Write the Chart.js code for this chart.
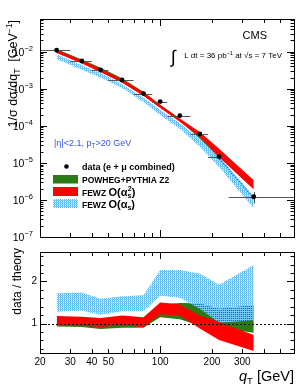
<!DOCTYPE html>
<html>
<head>
<meta charset="UTF-8">
<title>Z qT</title>
<script src="https://cdn.jsdelivr.net/npm/chart.js"></script>
<style>
  body { margin: 0; background: #fff; }
  #wrap { position: relative; width: 300px; height: 391px; }
  canvas { position: absolute; left: 0; }
  #top { top: 0; }
  #bot { top: 243px; }
</style>
</head>
<body>
<div id="wrap">
  <canvas id="top" width="300" height="243"></canvas>
  <canvas id="bot" width="300" height="148"></canvas>
</div>
<script>
// bins in qT [GeV]
const qT    = [25, 35, 45, 60, 80, 100, 130, 170, 220, 350];
const binLo = [20, 30, 40, 50, 70, 90, 110, 150, 190, 250];
const binHi = [30, 40, 50, 70, 90, 110, 150, 190, 250, 600];

// measured 1/sigma dsigma/dqT and its error
const dataVal = [1.09e-2, 5.6e-3, 3.2e-3, 1.72e-3, 7.4e-4, 4.5e-4, 1.88e-4, 6.0e-5, 1.47e-5, 1.22e-6];
const dataErr = [3e-4, 1.7e-4, 1.1e-4, 6e-5, 3.5e-5, 2.5e-5, 1.4e-5, 7e-6, 2.8e-6, 4.2e-7];

// theory bands, top panel
const powhegLo = [1.06e-2, 5.5e-3, 3.3e-3, 1.73e-3, 7.4e-4, 3.3e-4, 1.39e-4, 4.6e-5, 1.28e-5, 1.04e-6];
const powhegHi = [1.14e-2, 6.0e-3, 3.6e-3, 1.87e-3, 8.0e-4, 3.6e-4, 1.51e-4, 5.0e-5, 1.4e-5, 1.16e-6];
const fewz2Lo  = [9.2e-3, 4.8e-3, 2.8e-3, 1.45e-3, 6.4e-4, 3.0e-4, 1.29e-4, 5.0e-5, 1.41e-5, 1.9e-6];
const fewz2Hi  = [1.13e-2, 5.9e-3, 3.5e-3, 1.8e-3, 8.0e-4, 3.7e-4, 1.58e-4, 6.8e-5, 2.4e-5, 3.4e-6];
const fewz1Lo  = [6.3e-3, 3.24e-3, 2.0e-3, 1.04e-3, 4.4e-4, 1.97e-4, 8.3e-5, 2.74e-5, 7.7e-6, 6.0e-7];
const fewz1Hi  = [8.5e-3, 4.28e-3, 2.65e-3, 1.33e-3, 5.7e-4, 2.7e-4, 1.17e-4, 4.4e-5, 1.47e-5, 1.25e-6];

// data / theory, bottom panel
const rPowhegLo = [0.93, 0.92, 0.87, 0.90, 0.90, 1.15, 1.10, 0.95, 0.90, 0.78];
const rPowhegHi = [1.02, 1.01, 0.97, 1.00, 1.00, 1.45, 1.49, 1.48, 1.36, 1.44];
const rFewz2Lo  = [0.96, 0.945, 0.915, 0.96, 0.915, 1.22, 1.19, 0.88, 0.61, 0.35];
const rFewz2Hi  = [1.18, 1.16, 1.13, 1.19, 1.15, 1.50, 1.46, 1.19, 1.04, 0.73];
const rFewz1Lo  = [1.28, 1.31, 1.21, 1.29, 1.29, 1.66, 1.61, 1.35, 1.02, 1.08];
const rFewz1Hi  = [1.72, 1.74, 1.59, 1.65, 1.67, 2.27, 2.27, 2.19, 1.92, 2.39];

// tick labels
const xTickLabels = [20, 30, 40, 50, 100, 200, 300];
const yTickExp = [-7, -6, -5, -4, -3, -2];
const rTickLabels = [1, 2];

const FONT = '"Liberation Sans", Arial, Helvetica, sans-serif';
const RED = '#ff0000';
const GREEN = '#2a7b14';

function font(s, b, i) {
    return (i ? 'italic ' : '') + (b ? 'bold ' : '') + s + 'px ' + FONT;
}

// draws a row of text pieces (for sub/superscripts)
function rich(ctx, x, y, segs, align, color) {
    let w = 0;
    segs.forEach(s => {
        ctx.font = font(s.s, s.b, s.i);
        s.w = ctx.measureText(s.t).width + (s.gap || 0);
        w += s.w;
    });
    let cx = align === 'right' ? x - w : (align === 'center' ? x - w / 2 : x);
    ctx.textAlign = 'left';
    ctx.textBaseline = 'alphabetic';
    ctx.fillStyle = color || '#000';
    segs.forEach(s => {
        ctx.font = font(s.s, s.b, s.i);
        ctx.fillText(s.t, cx, y + (s.dy || 0));
        cx += s.w;
    });
}

// light blue hatch, partly see-through so the green shows under it
function hatch(canvasId) {
    const c = document.createElement('canvas');
    c.width = 4; c.height = 4;
    const g = c.getContext('2d');
    g.fillStyle = '#5cbbef';
    g.fillRect(0, 0, 4, 4);
    g.fillStyle = '#7ecaf3';
    g.fillRect(0, 0, 4, 1);
    g.fillRect(0, 2, 4, 1);
    g.clearRect(1, 1, 1, 1); g.clearRect(3, 1, 1, 1);
    g.clearRect(1, 3, 1, 1); g.clearRect(3, 3, 1, 1);
    return document.getElementById(canvasId).getContext('2d').createPattern(c, 'repeat');
}
const BLUE_TOP = hatch('top');
const BLUE_BOT = hatch('bot');

const pts = (ys) => qT.map((x, i) => ({ x: x, y: ys[i] }));

function band(lo, hi, color, order, line) {
    const lc = line ? color : 'rgba(0,0,0,0)';
    return [
        { label: 'lo', data: pts(lo), borderColor: lc, borderWidth: line ? 0.8 : 1, pointRadius: 0, fill: false, order: order, tension: 0 },
        { label: 'hi', data: pts(hi), borderColor: lc, borderWidth: line ? 0.8 : 1, pointRadius: 0, backgroundColor: color, fill: '-1', order: order, tension: 0 }
    ];
}

function drawXTicks(ctx, a, xs) {
    ctx.strokeStyle = '#000';
    ctx.lineWidth = 1;
    const vals = [20, 30, 40, 50, 60, 70, 80, 90, 100, 200, 300, 400, 500];
    vals.forEach(v => {
        const x = Math.round(xs.getPixelForValue(v)) + 0.5;
        const len = v === 100 ? 7 : 4;
        ctx.beginPath();
        ctx.moveTo(x, a.bottom); ctx.lineTo(x, a.bottom - len);
        ctx.moveTo(x, a.top); ctx.lineTo(x, a.top + len);
        ctx.stroke();
    });
}

function frame(ctx, a) {
    ctx.strokeStyle = '#000';
    ctx.lineWidth = 1;
    ctx.strokeRect(Math.round(a.left) + 0.5, Math.round(a.top) + 0.5, Math.round(a.right - a.left), Math.round(a.bottom - a.top));
}

const errorBars = {
    id: 'errorBars',
    beforeDatasetDraw(chart, args) {
        if (chart.data.datasets[args.index].label !== 'data') return;
        const ctx = chart.ctx, xs = chart.scales.x, ys = chart.scales.y;
        ctx.save();
        ctx.strokeStyle = '#555';
        ctx.lineWidth = 1;
        dataVal.forEach((v, i) => {
            const x = xs.getPixelForValue(qT[i]);
            const y = Math.round(ys.getPixelForValue(v)) + 0.5;
            ctx.beginPath();
            ctx.moveTo(xs.getPixelForValue(binLo[i]), y);
            ctx.lineTo(xs.getPixelForValue(binHi[i]), y);
            const xr = Math.round(x) + 0.5;
            ctx.moveTo(xr, ys.getPixelForValue(v + dataErr[i]));
            ctx.lineTo(xr, ys.getPixelForValue(v - dataErr[i]));
            ctx.stroke();
        });
        ctx.restore();
    }
};

const topDecor = {
    id: 'topDecor',
    afterDraw(chart) {
        const ctx = chart.ctx, a = chart.chartArea, xs = chart.scales.x, ys = chart.scales.y;
        ctx.save();
        frame(ctx, a);
        drawXTicks(ctx, a, xs);
        // log y ticks
        for (let e = -7; e <= -2; e++) {
            for (let m = 1; m <= 9; m++) {
                const v = m * Math.pow(10, e);
                if (v > ys.max) continue;
                const y = Math.round(ys.getPixelForValue(v)) + 0.5;
                const len = m === 1 ? 7 : 3.5;
                ctx.beginPath();
                ctx.moveTo(a.left, y); ctx.lineTo(a.left + len, y);
                ctx.moveTo(a.right, y); ctx.lineTo(a.right - len, y);
                ctx.stroke();
            }
        }
        yTickExp.forEach(e => {
            const y = ys.getPixelForValue(Math.pow(10, e));
            rich(ctx, 33, y + 4, [{ t: '10', s: 10.5 }, { t: String(e).replace('-', '\u2212'), s: 7.5, dy: -5 }], 'right');
        });
        // axis title
        ctx.save();
        ctx.translate(17, 20);
        ctx.rotate(-Math.PI / 2);
        rich(ctx, 0, 0, [
            { t: '1/\u03c3 d\u03c3/dq', s: 12.5 }, { t: 'T', s: 8.5, dy: 3 },
            { t: '  [GeV', s: 12.5 }, { t: '\u22121', s: 8.5, dy: -5 }, { t: ']', s: 12.5 }
        ], 'right');
        ctx.restore();
        // labels
        rich(ctx, 267, 39, [{ t: 'CMS', s: 11 }], 'right');
        rich(ctx, 171, 63, [{ t: '\u222b', s: 18 }], 'left');
        rich(ctx, 282, 58, [
            { t: 'L dt = 36 pb', s: 8 }, { t: '\u22121', s: 5.5, dy: -3.5 },
            { t: ' at \u221as = 7 TeV', s: 8 }
        ], 'right');
        rich(ctx, 54, 146, [
            { t: '|\u03b7|<2.1, p', s: 9 }, { t: 'T', s: 6.5, dy: 2 }, { t: '>20 GeV', s: 9 }
        ], 'left', '#3355ee');
        // legend
        ctx.fillStyle = '#000';
        ctx.beginPath();
        ctx.arc(66.5, 166.5, 2.3, 0, Math.PI * 2);
        ctx.fill();
        rich(ctx, 82, 170, [{ t: 'data (e + \u03bc combined)', s: 9, b: true }], 'left');
        ctx.fillStyle = GREEN;
        ctx.fillRect(53, 175, 25, 8.5);
        rich(ctx, 82, 183, [{ t: 'POWHEG+PYTHIA Z2', s: 8.5, b: true }], 'left');
        ctx.fillStyle = RED;
        ctx.fillRect(53, 187, 25, 9);
        rich(ctx, 82, 195.5, [
            { t: 'FEWZ ', s: 8.5, b: true }, { t: 'O(\u03b1', s: 11, b: true },
            { t: 's', s: 7, b: true, dy: 2, gap: -3.5 }, { t: '2', s: 7, b: true, dy: -5 }, { t: ')', s: 11, b: true }
        ], 'left');
        ctx.fillStyle = BLUE_TOP;
        ctx.fillRect(53, 199, 25, 9);
        rich(ctx, 82, 208, [
            { t: 'FEWZ ', s: 8.5, b: true }, { t: 'O(\u03b1', s: 11, b: true },
            { t: 's', s: 7, b: true, dy: 2 }, { t: ')', s: 11, b: true }
        ], 'left');
        ctx.restore();
    }
};

const botDecor = {
    id: 'botDecor',
    afterDatasetsDraw(chart) {
        const ctx = chart.ctx, a = chart.chartArea, ys = chart.scales.y;
        const y = Math.round(ys.getPixelForValue(1)) + 0.5;
        ctx.save();
        ctx.strokeStyle = '#000';
        ctx.lineWidth = 1;
        ctx.setLineDash([2, 2]);
        ctx.beginPath();
        ctx.moveTo(a.left, y); ctx.lineTo(a.right, y);
        ctx.stroke();
        ctx.restore();
    },
    afterDraw(chart) {
        const ctx = chart.ctx, a = chart.chartArea, xs = chart.scales.x, ys = chart.scales.y;
        ctx.save();
        frame(ctx, a);
        drawXTicks(ctx, a, xs);
        for (let v = 0.4; v < 2.7; v += 0.2) {
            const major = Math.abs(v - Math.round(v)) < 0.01;
            const y = Math.round(ys.getPixelForValue(v)) + 0.5;
            const len = major ? 7 : 3.5;
            ctx.beginPath();
            ctx.moveTo(a.left, y); ctx.lineTo(a.left + len, y);
            ctx.moveTo(a.right, y); ctx.lineTo(a.right - len, y);
            ctx.stroke();
        }
        ctx.save();
        ctx.translate(21, 5);
        ctx.rotate(-Math.PI / 2);
        rich(ctx, 0, 0, [{ t: 'data / theory', s: 12 }], 'right');
        ctx.restore();
        rich(ctx, 294, 138, [
            { t: 'q', s: 14.5, i: true }, { t: 'T', s: 9.5, dy: 3 }, { t: ' [GeV]', s: 14.5 }
        ], 'right');
        ctx.restore();
    }
};

Chart.defaults.font.family = FONT;
Chart.defaults.color = '#000';

new Chart(document.getElementById('top'), {
    type: 'line',
    data: {
        datasets: [
            ...band(powhegLo, powhegHi, GREEN, 3, true),
            ...band(fewz1Lo, fewz1Hi, BLUE_TOP, 2, false),
            ...band(fewz2Lo, fewz2Hi, RED, 1, false),
            { label: 'data', data: pts(dataVal), showLine: false, pointRadius: 2.4, pointBorderWidth: 0,
              pointBackgroundColor: '#000', order: 0 }
        ]
    },
    options: {
        responsive: false, animation: false, devicePixelRatio: 1,
        layout: { padding: { left: 0, top: 19, right: 6, bottom: 6 } },
        scales: {
            x: { type: 'logarithmic', min: 20, max: 600, display: false },
            y: {
                type: 'logarithmic', min: 1e-7, max: 0.076,
                grid: { display: false, drawTicks: false }, border: { display: false },
                ticks: { display: false },
                afterFit(s) { s.width = 40; }
            }
        },
        plugins: { legend: { display: false }, tooltip: { enabled: false } }
    },
    plugins: [errorBars, topDecor]
});

new Chart(document.getElementById('bot'), {
    type: 'line',
    data: {
        datasets: [
            ...band(rPowhegLo, rPowhegHi, GREEN, 3, false),
            ...band(rFewz1Lo, rFewz1Hi, BLUE_BOT, 2, false),
            ...band(rFewz2Lo, rFewz2Hi, RED, 1, false)
        ]
    },
    options: {
        responsive: false, animation: false, devicePixelRatio: 1,
        layout: { padding: { left: 0, top: 6, right: 6, bottom: 0 } },
        scales: {
            x: {
                type: 'logarithmic', min: 20, max: 600,
                grid: { display: false, drawTicks: false }, border: { display: false },
                afterBuildTicks(s) { s.ticks = xTickLabels.map(v => ({ value: v })); },
                ticks: { font: { size: 10 }, padding: 3, maxRotation: 0, autoSkip: false,
                         callback: (v) => String(v) },
                afterFit(s) { s.height = 38; }
            },
            y: {
                min: 0.3, max: 2.7,
                grid: { display: false, drawTicks: false }, border: { display: false },
                afterBuildTicks(s) { s.ticks = rTickLabels.map(v => ({ value: v })); },
                ticks: { font: { size: 10 }, padding: 3 },
                afterFit(s) { s.width = 40; }
            }
        },
        plugins: { legend: { display: false }, tooltip: { enabled: false } }
    },
    plugins: [botDecor]
});
</script>
</body>
</html>
